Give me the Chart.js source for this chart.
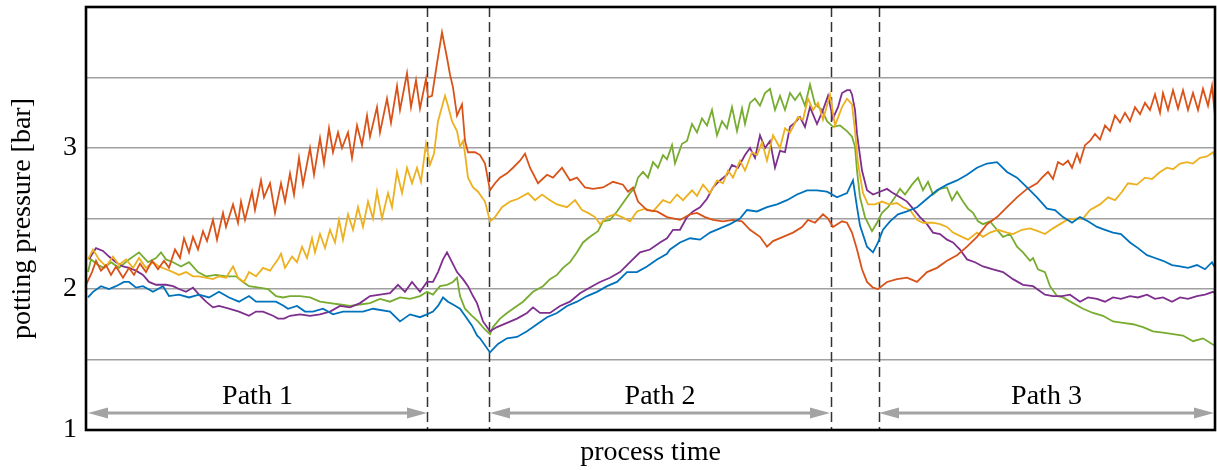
<!DOCTYPE html>
<html>
<head>
<meta charset="utf-8">
<script src="https://cdn.jsdelivr.net/npm/chart.js@4.4.1/dist/chart.umd.min.js"></script>
<style>
    html, body { margin: 0; padding: 0; background: #fff; }
</style>
</head>
<body>
<canvas id="diagram" width="1217" height="470"></canvas>
<script>
// process time (arbitrary units) / potting pressure [bar]
const blueData = [
    [2,1.94],[7,1.98],[15,2.02],[23,2.0],[30,2.02],[38,2.05],[43,2.05],[50,2.01],[57,2.02],[67,1.98],
    [77,2.02],[83,1.95],[93,1.96],[103,1.94],[113,1.96],[123,1.94],[133,1.98],[143,1.94],[153,1.91],[163,1.95],
    [170,1.91],[180,1.91],[190,1.91],[198,1.88],[202,1.86],[211,1.88],[219,1.84],[227,1.84],[237,1.86],[247,1.82],
    [257,1.84],[267,1.84],[277,1.84],[287,1.86],[304,1.84],[314,1.77],[324,1.82],[334,1.8],[341,1.82],[347,1.84],
    [352,1.88],[357,1.94],[362,1.91],[367,1.89],[374,1.86],[379,1.81],[386,1.74],[391,1.67],[394,1.65],[404,1.55],
    [412,1.61],[421,1.65],[431,1.66],[441,1.70],[451,1.75],[461,1.8],[471,1.83],[481,1.88],[491,1.91],[501,1.95],
    [511,1.98],[521,2.02],[531,2.05],[541,2.12],[551,2.12],[561,2.16],[571,2.21],[581,2.25],[584,2.28],[594,2.33],
    [604,2.36],[614,2.35],[624,2.4],[634,2.43],[644,2.46],[654,2.5],[661,2.56],[671,2.55],[681,2.58],[691,2.6],
    [701,2.63],[711,2.67],[721,2.7],[731,2.7],[741,2.69],[751,2.65],[761,2.68],[767,2.77],[771,2.58],[774,2.45],
    [781,2.3],[787,2.26],[792,2.33],[797,2.42],[804,2.48],[812,2.53],[821,2.55],[831,2.58],[841,2.64],[851,2.7],
    [861,2.74],[871,2.77],[881,2.81],[891,2.86],[901,2.89],[911,2.9],[921,2.83],[931,2.79],[941,2.72],[951,2.65],
    [961,2.57],[969,2.56],[977,2.51],[986,2.47],[994,2.51],[1002,2.48],[1011,2.44],[1019,2.42],[1027,2.4],[1035,2.39],
    [1044,2.33],[1052,2.29],[1061,2.24],[1069,2.22],[1077,2.2],[1086,2.17],[1094,2.16],[1102,2.15],[1111,2.17],[1119,2.14],
    [1126,2.19],[1129,2.15]
];

const orangeData = [
    [0,2.03],[6,2.12],[10,2.2],[15,2.13],[20,2.17],[25,2.1],[30,2.16],[37,2.08],[43,2.15],[48,2.1],
    [54,2.18],[60,2.12],[66,2.2],[72,2.14],[78,2.2],[83,2.15],[89,2.28],[94,2.22],[98,2.36],[103,2.26],
    [107,2.37],[112,2.28],[117,2.41],[121,2.34],[127,2.49],[131,2.35],[137,2.54],[140,2.44],[147,2.6],[152,2.47],
    [155,2.62],[159,2.49],[166,2.69],[169,2.56],[175,2.77],[178,2.65],[184,2.75],[189,2.54],[195,2.75],[199,2.62],
    [204,2.82],[208,2.67],[213,2.93],[217,2.74],[224,3.0],[228,2.81],[234,3.07],[238,2.89],[243,3.14],[247,2.97],
    [252,3.11],[256,3.0],[262,3.11],[266,2.93],[271,3.16],[276,3.02],[281,3.23],[284,3.08],[291,3.29],[294,3.11],
    [301,3.35],[305,3.18],[311,3.44],[314,3.27],[321,3.53],[325,3.29],[330,3.48],[334,3.28],[340,3.49],[342,3.36],
    [346,3.37],[351,3.6],[356,3.82],[361,3.64],[364,3.52],[367,3.43],[371,3.23],[376,3.31],[379,3.05],[382,2.97],
    [389,2.97],[394,2.95],[399,2.89],[404,2.70],[409,2.75],[414,2.79],[421,2.82],[427,2.86],[434,2.91],[439,2.96],
    [444,2.86],[452,2.75],[461,2.81],[467,2.79],[476,2.86],[484,2.77],[491,2.79],[499,2.72],[507,2.71],[517,2.72],
    [527,2.76],[537,2.74],[542,2.69],[547,2.72],[552,2.62],[561,2.56],[571,2.55],[581,2.51],[594,2.49],[604,2.53],
    [611,2.54],[619,2.51],[627,2.49],[637,2.48],[647,2.49],[656,2.48],[664,2.42],[674,2.37],[681,2.30],[687,2.34],
    [697,2.37],[707,2.4],[716,2.44],[722,2.49],[729,2.47],[737,2.53],[742,2.5],[747,2.44],[756,2.48],[761,2.47],
    [766,2.4],[771,2.28],[776,2.14],[781,2.05],[787,2.01],[792,2.0],[801,2.05],[811,2.07],[821,2.08],[831,2.05],
    [841,2.12],[851,2.15],[861,2.2],[871,2.24],[881,2.3],[891,2.37],[901,2.46],[911,2.51],[921,2.58],[931,2.65],
    [941,2.71],[951,2.75],[956,2.79],[962,2.83],[967,2.78],[972,2.9],[977,2.88],[982,2.91],[986,2.86],[991,2.96],
    [994,2.9],[999,3.02],[1004,3.05],[1009,3.1],[1014,3.06],[1019,3.16],[1024,3.12],[1029,3.23],[1034,3.18],[1039,3.25],
    [1044,3.19],[1049,3.29],[1054,3.24],[1059,3.32],[1064,3.27],[1069,3.38],[1074,3.25],[1077,3.39],[1082,3.27],[1087,3.41],
    [1092,3.28],[1097,3.41],[1102,3.27],[1107,3.39],[1112,3.27],[1117,3.42],[1122,3.3],[1126,3.44],[1129,3.23]
];

const yellowData = [
    [2,2.21],[7,2.28],[13,2.21],[20,2.16],[27,2.23],[33,2.17],[40,2.21],[47,2.15],[53,2.22],[60,2.15],
    [67,2.19],[73,2.16],[80,2.14],[87,2.12],[93,2.10],[100,2.12],[107,2.09],[113,2.09],[127,2.07],[133,2.09],
    [140,2.08],[147,2.16],[152,2.08],[158,2.05],[163,2.12],[170,2.09],[177,2.15],[184,2.13],[192,2.21],[195,2.25],
    [199,2.15],[206,2.23],[211,2.19],[216,2.3],[221,2.22],[226,2.36],[229,2.26],[234,2.39],[239,2.29],[244,2.42],
    [249,2.33],[253,2.49],[257,2.35],[262,2.53],[267,2.42],[272,2.58],[277,2.44],[282,2.62],[287,2.5],[291,2.69],
    [296,2.5],[302,2.68],[306,2.58],[311,2.83],[316,2.68],[321,2.86],[326,2.75],[331,2.86],[335,2.76],[340,3.03],
    [344,2.88],[348,2.96],[352,3.19],[359,3.37],[362,3.3],[366,3.19],[371,3.12],[374,3.01],[377,3.05],[379,2.96],
    [382,2.79],[387,2.72],[392,2.69],[399,2.62],[404,2.48],[409,2.51],[416,2.58],[424,2.62],[432,2.64],[442,2.68],
    [449,2.63],[456,2.67],[464,2.63],[471,2.6],[481,2.58],[489,2.63],[496,2.56],[502,2.54],[509,2.51],[514,2.46],
    [521,2.51],[529,2.53],[536,2.51],[544,2.48],[551,2.55],[559,2.57],[567,2.55],[577,2.63],[584,2.61],[591,2.67],
    [597,2.63],[606,2.7],[611,2.66],[617,2.74],[624,2.68],[631,2.77],[637,2.75],[642,2.84],[647,2.79],[654,2.91],
    [659,2.84],[666,2.97],[671,2.95],[676,3.04],[681,2.91],[687,3.09],[694,3.0],[699,3.14],[704,3.11],[712,3.22],
    [717,3.2],[722,3.35],[727,3.27],[732,3.32],[737,3.2],[744,3.38],[749,3.16],[756,3.29],[761,3.35],[766,3.31],
    [769,3.12],[772,2.89],[777,2.68],[782,2.6],[789,2.6],[796,2.62],[803,2.6],[811,2.61],[817,2.58],[824,2.56],
    [831,2.49],[837,2.47],[847,2.47],[854,2.46],[861,2.44],[867,2.4],[876,2.37],[882,2.35],[891,2.4],[897,2.37],
    [904,2.4],[912,2.42],[921,2.4],[927,2.39],[936,2.42],[944,2.43],[952,2.41],[959,2.39],[967,2.43],[974,2.46],
    [981,2.49],[991,2.5],[997,2.5],[1004,2.56],[1014,2.6],[1022,2.65],[1029,2.63],[1036,2.69],[1042,2.75],[1051,2.74],
    [1059,2.79],[1066,2.78],[1074,2.83],[1081,2.86],[1087,2.85],[1094,2.89],[1101,2.9],[1107,2.89],[1114,2.93],[1121,2.94],
    [1127,2.97],[1129,2.93]
];

const purpleData = [
    [3,2.21],[10,2.29],[17,2.27],[23,2.23],[30,2.19],[37,2.16],[43,2.15],[50,2.13],[57,2.1],[63,2.05],
    [70,2.03],[80,2.03],[87,2.02],[93,2.0],[100,1.98],[107,2.01],[113,1.96],[120,1.91],[127,1.87],[133,1.88],
    [143,1.86],[153,1.84],[163,1.81],[170,1.84],[177,1.84],[187,1.81],[192,1.79],[198,1.79],[204,1.81],[214,1.82],
    [224,1.81],[234,1.82],[244,1.84],[254,1.88],[264,1.87],[274,1.9],[284,1.95],[294,1.96],[304,1.97],[312,2.03],
    [319,1.98],[326,2.05],[334,1.98],[341,2.05],[347,2.05],[352,2.12],[357,2.21],[361,2.26],[366,2.19],[371,2.12],
    [377,2.07],[382,2.02],[387,1.95],[391,1.9],[397,1.77],[404,1.7],[411,1.73],[421,1.76],[431,1.79],[441,1.83],
    [447,1.87],[454,1.83],[464,1.83],[474,1.88],[484,1.91],[494,1.97],[504,2.01],[514,2.05],[524,2.08],[534,2.12],
    [544,2.19],[554,2.26],[564,2.28],[574,2.33],[581,2.36],[587,2.42],[594,2.42],[601,2.51],[607,2.55],[614,2.58],
    [621,2.64],[627,2.72],[634,2.77],[641,2.81],[646,2.88],[652,2.86],[659,2.95],[664,3.0],[669,2.93],[674,3.09],
    [679,3.0],[684,3.05],[689,2.86],[694,2.98],[699,2.97],[704,3.15],[709,3.18],[714,3.22],[719,3.15],[724,3.29],
    [731,3.17],[737,3.27],[742,3.37],[747,3.21],[752,3.29],[756,3.39],[761,3.41],[764,3.41],[766,3.38],[769,3.27],
    [771,3.1],[776,2.84],[781,2.7],[787,2.67],[794,2.69],[801,2.71],[807,2.68],[814,2.65],[821,2.62],[827,2.57],
    [834,2.51],[841,2.46],[847,2.4],[854,2.39],[861,2.35],[867,2.33],[874,2.28],[881,2.21],[889,2.19],[897,2.16],
    [907,2.14],[917,2.12],[927,2.07],[937,2.03],[947,2.02],[951,2.0],[959,1.96],[967,1.95],[976,1.95],[984,1.96],
    [994,1.91],[1002,1.94],[1011,1.93],[1019,1.91],[1027,1.94],[1035,1.93],[1044,1.95],[1052,1.94],[1061,1.96],[1069,1.93],
    [1077,1.94],[1086,1.91],[1094,1.94],[1102,1.93],[1111,1.95],[1119,1.96],[1127,1.98],[1129,1.97]
];

const greenData = [
    [2,2.12],[5,2.21],[12,2.17],[18,2.15],[25,2.19],[33,2.15],[43,2.21],[53,2.26],[62,2.19],[70,2.22],
    [75,2.26],[80,2.21],[87,2.19],[95,2.16],[103,2.19],[112,2.12],[120,2.09],[130,2.1],[140,2.09],[150,2.09],
    [157,2.05],[163,2.02],[173,2.01],[182,2.0],[190,1.95],[197,1.94],[204,1.95],[214,1.95],[224,1.94],[234,1.91],
    [244,1.9],[254,1.89],[264,1.88],[274,1.89],[284,1.9],[294,1.93],[304,1.91],[314,1.94],[324,1.93],[334,1.95],
    [341,1.98],[347,1.96],[354,2.02],[361,2.03],[367,2.05],[371,2.08],[374,1.95],[379,1.86],[386,1.81],[392,1.77],
    [398,1.72],[404,1.68],[407,1.73],[414,1.79],[421,1.83],[427,1.86],[437,1.91],[447,1.98],[457,2.02],[464,2.07],
    [471,2.1],[477,2.15],[484,2.19],[491,2.26],[497,2.33],[504,2.37],[512,2.41],[517,2.48],[524,2.49],[531,2.55],
    [537,2.61],[544,2.68],[549,2.72],[552,2.79],[557,2.83],[562,2.79],[567,2.9],[572,2.86],[577,2.95],[581,2.92],
    [586,3.02],[589,2.89],[596,3.03],[601,3.05],[606,3.17],[611,3.11],[616,3.21],[621,3.16],[626,3.27],[631,3.09],
    [636,3.19],[641,3.14],[646,3.29],[651,3.12],[656,3.28],[659,3.17],[664,3.32],[669,3.35],[674,3.3],[679,3.39],
    [684,3.42],[689,3.27],[694,3.37],[699,3.27],[704,3.39],[709,3.34],[714,3.39],[719,3.3],[724,3.45],[729,3.31],
    [736,3.27],[741,3.19],[747,3.15],[754,3.16],[761,3.12],[766,3.08],[769,3.01],[771,2.84],[774,2.65],[779,2.51],
    [786,2.41],[791,2.47],[796,2.54],[802,2.58],[809,2.65],[814,2.71],[819,2.67],[826,2.74],[832,2.79],[837,2.7],
    [842,2.76],[847,2.67],[854,2.71],[861,2.72],[866,2.63],[871,2.69],[877,2.62],[882,2.57],[887,2.54],[892,2.48],
    [897,2.46],[904,2.48],[911,2.42],[917,2.37],[924,2.39],[931,2.3],[937,2.26],[944,2.2],[947,2.22],[952,2.14],
    [959,2.12],[964,2.02],[971,1.95],[977,1.94],[987,1.9],[997,1.86],[1007,1.83],[1017,1.81],[1027,1.77],[1037,1.76],
    [1047,1.75],[1057,1.73],[1067,1.7],[1077,1.69],[1087,1.68],[1097,1.67],[1107,1.63],[1117,1.65],[1126,1.61],[1129,1.6]
];

// phase boundaries (dashed lines) and the path arrows between them
const boundaries = [341, 403, 745, 793];
const pathLabels = ["Path 1", "Path 2", "Path 3"];
const pathStart = [2, 404, 793];
const pathEnd = [341, 744, 1128];
const labelledTicks = [1, 2, 3];

const serif = "'Liberation Serif', 'Times New Roman', serif";

const toPoints = (arr) => arr.map((p) => ({ x: p[0], y: p[1] }));

const line = (data, color) => ({
    data: toPoints(data),
    borderColor: color,
    borderWidth: 1.8,
    pointRadius: 0,
    tension: 0,
    fill: false,
});

const decorations = {
    id: "decorations",
    beforeDatasetsDraw(chart) {
        const { ctx, chartArea, scales } = chart;
        const x = scales.x;
        const y = scales.y;
        ctx.save();

        // dashed boundaries
        ctx.strokeStyle = "#333";
        ctx.lineWidth = 1.5;
        ctx.setLineDash([10, 5]);
        boundaries.forEach((b) => {
            const px = Math.round(x.getPixelForValue(b)) + 0.5;
            ctx.beginPath();
            ctx.moveTo(px, chartArea.top);
            ctx.lineTo(px, chartArea.bottom);
            ctx.stroke();
        });
        ctx.setLineDash([]);

        // arrows with their labels
        const ay = y.getPixelForValue(1.12);
        const head = 20;
        const half = 5.5;
        ctx.lineWidth = 3;
        pathLabels.forEach((label, i) => {
            const x0 = x.getPixelForValue(pathStart[i]);
            const x1 = x.getPixelForValue(pathEnd[i]);
            ctx.strokeStyle = "#a3a3a3";
            ctx.fillStyle = "#a3a3a3";
            ctx.beginPath();
            ctx.moveTo(x0 + head - 2, ay);
            ctx.lineTo(x1 - head + 2, ay);
            ctx.stroke();
            ctx.beginPath();
            ctx.moveTo(x0, ay);
            ctx.lineTo(x0 + head, ay - half);
            ctx.lineTo(x0 + head, ay + half);
            ctx.closePath();
            ctx.fill();
            ctx.beginPath();
            ctx.moveTo(x1, ay);
            ctx.lineTo(x1 - head, ay - half);
            ctx.lineTo(x1 - head, ay + half);
            ctx.closePath();
            ctx.fill();

            ctx.fillStyle = "#000";
            ctx.font = "28px " + serif;
            ctx.textAlign = "center";
            ctx.textBaseline = "alphabetic";
            ctx.fillText(label, (x0 + x1) / 2, y.getPixelForValue(1.184));
        });
        ctx.restore();
    },
    afterDatasetsDraw(chart) {
        const { ctx, chartArea } = chart;
        ctx.save();
        ctx.strokeStyle = "#000";
        ctx.lineWidth = 2.6;
        ctx.strokeRect(chartArea.left, chartArea.top, chartArea.right - chartArea.left, chartArea.bottom - chartArea.top);
        ctx.restore();
    },
};

const ctx = document.getElementById("diagram");

new Chart(ctx, {
    type: "line",
    data: {
        datasets: [
            line(blueData, "#0072BD"),
            line(orangeData, "#D95319"),
            line(yellowData, "#EDB120"),
            line(purpleData, "#7E2F8E"),
            line(greenData, "#77AC30"),
        ],
    },
    options: {
        responsive: false,
        animation: false,
        devicePixelRatio: 1,
        layout: { padding: { left: 0, right: 2, top: 7, bottom: 0 } },
        plugins: {
            legend: { display: false },
            tooltip: { enabled: false },
        },
        scales: {
            x: {
                type: "linear",
                min: 0,
                max: 1129,
                grid: { display: false },
                border: { display: false },
                ticks: { display: false },
                title: {
                    display: true,
                    text: "process time",
                    color: "#000",
                    font: { family: serif, size: 28 },
                    padding: { top: 0, bottom: 1 },
                },
                afterFit(scale) {
                    scale.height = 40;
                },
            },
            y: {
                min: 1,
                max: 4,
                ticks: {
                    stepSize: 0.5,
                    color: "#000",
                    padding: 9,
                    font: { family: serif, size: 28 },
                    callback: (v) => (labelledTicks.includes(v) ? v : ""),
                },
                grid: { color: "#a0a0a0", lineWidth: 1.5, drawTicks: false },
                border: { display: false },
                title: {
                    display: true,
                    text: "potting pressure [bar]",
                    color: "#000",
                    font: { family: serif, size: 28 },
                    padding: { top: 6, bottom: 0 },
                },
                afterFit(scale) {
                    scale.width = 86;
                    scale.paddingTop = 0;
                    scale.paddingBottom = 0;
                },
            },
        },
    },
    plugins: [decorations],
});
</script>
</body>
</html>
